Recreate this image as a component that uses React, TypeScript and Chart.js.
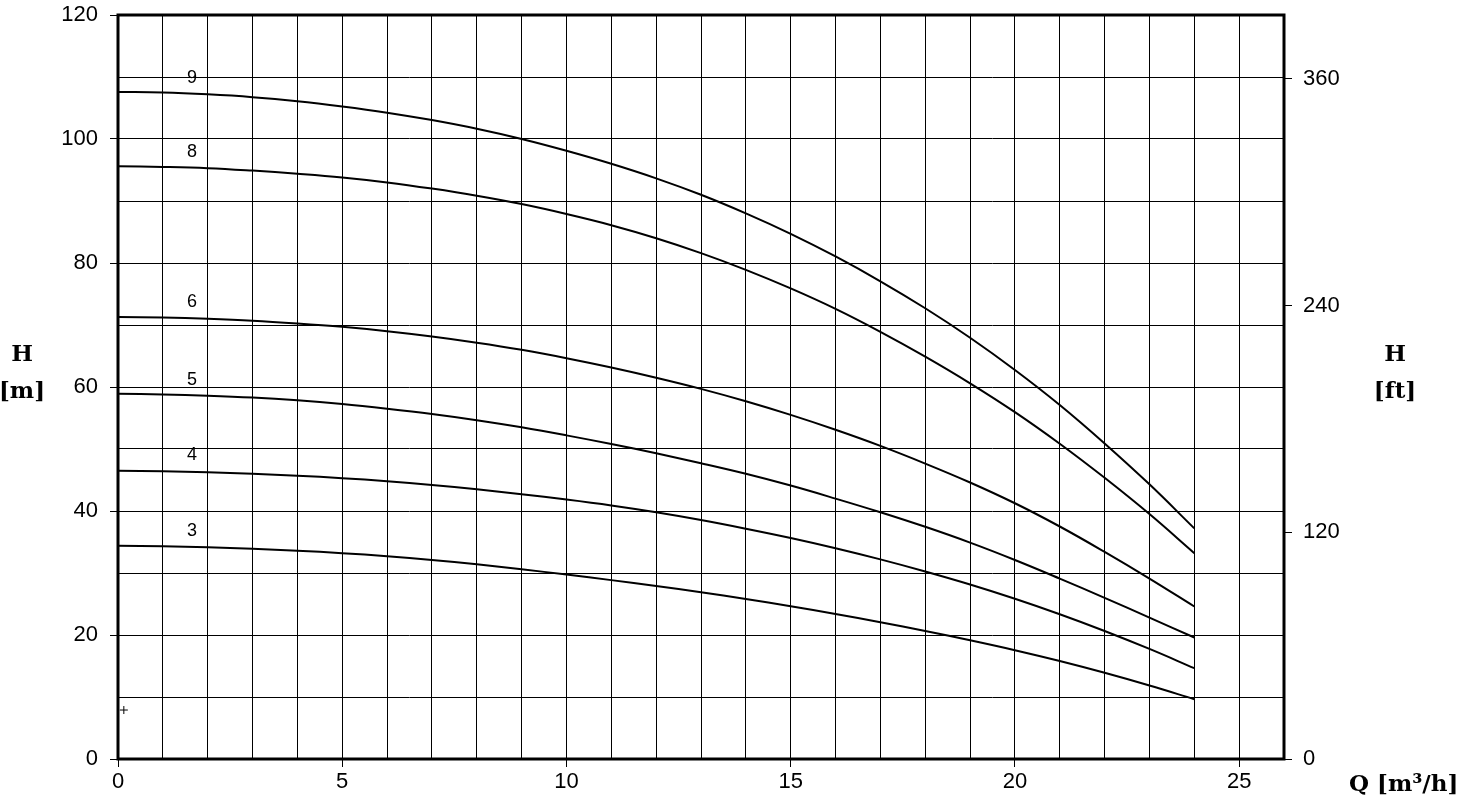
import React, { useEffect, useRef } from "react";
import { Chart, registerables } from "chart.js";

Chart.register(...registerables);

const Q = [0, 1, 2, 3, 4, 5, 6, 7, 8, 9, 10, 11, 12, 13, 14, 15, 16, 17, 18, 19, 20, 21, 22, 23, 24];
const H9 = [107.6, 107.5, 107.2, 106.75, 106.1, 105.25, 104.25, 103.05, 101.65, 100.0, 98.1, 96.0, 93.65, 91.0, 88.0, 84.7, 81.05, 77.05, 72.7, 67.95, 62.75, 57.1, 50.9, 44.3, 37.2];
const H8 = [95.6, 95.5, 95.3, 94.9, 94.4, 93.8, 93.0, 92.0, 90.85, 89.5, 87.9, 86.1, 84.0, 81.6, 78.9, 75.9, 72.6, 68.9, 64.9, 60.6, 55.95, 50.85, 45.35, 39.5, 33.2];
const H6 = [71.3, 71.2, 71.0, 70.7, 70.25, 69.7, 69.0, 68.15, 67.15, 66.0, 64.65, 63.15, 61.5, 59.7, 57.7, 55.5, 53.1, 50.5, 47.65, 44.6, 41.25, 37.5, 33.4, 29.1, 24.6];
const H5 = [58.9, 58.8, 58.6, 58.3, 57.85, 57.25, 56.5, 55.65, 54.65, 53.5, 52.2, 50.8, 49.3, 47.7, 46.0, 44.1, 42.0, 39.8, 37.45, 34.9, 32.1, 29.1, 26.0, 22.8, 19.6];
const H4 = [46.5, 46.4, 46.25, 46.0, 45.7, 45.3, 44.8, 44.2, 43.5, 42.7, 41.85, 40.9, 39.8, 38.55, 37.15, 35.65, 34.0, 32.2, 30.25, 28.15, 25.85, 23.35, 20.65, 17.75, 14.65];
const H3 = [34.4, 34.3, 34.15, 33.9, 33.6, 33.2, 32.7, 32.1, 31.4, 30.6, 29.75, 28.85, 27.9, 26.9, 25.8, 24.65, 23.4, 22.05, 20.65, 19.15, 17.55, 15.8, 13.9, 11.85, 9.65];

const curveNames = ["9", "8", "6", "5", "4", "3"];
const curveValues = [H9, H8, H6, H5, H4, H3];
const labelQ = 1.65;
const labelH = [109.8, 97.9, 73.7, 61.1, 49.0, 36.8];
const markerPoint = { x: 0.13, y: 7.9 };

const ftTicks = [0, 120, 240, 360];
const M_TO_FT = 3.28084;

export default function App() {
  const ref = useRef<HTMLCanvasElement | null>(null);
  useEffect(() => {
    document.body.style.margin = "0";
    const canvas = ref.current!;
    const datasets: any[] = curveValues.map((vals, i) => ({
      label: curveNames[i],
      data: Q.map((q, j) => ({ x: q, y: vals[j] })),
      borderColor: "#000",
      borderWidth: 2,
      pointRadius: 0,
      tension: 0.4,
      fill: false,
    }));
    datasets.push({
      label: "marker",
      data: [markerPoint],
      showLine: false,
      pointStyle: "cross",
      pointRadius: 4,
      borderColor: "#000",
      borderWidth: 1,
    });

    const framePlugin = {
      id: "frame",
      afterDraw(chart: any) {
        const { ctx, chartArea: a, scales } = chart;
        ctx.save();
        ctx.strokeStyle = "#000";
        ctx.lineWidth = 3;
        ctx.strokeRect(a.left, a.top, a.right - a.left, a.bottom - a.top);
        ctx.fillStyle = "#000";
        ctx.font = "18px 'Liberation Sans', Arial, sans-serif";
        ctx.textAlign = "center";
        ctx.textBaseline = "middle";
        curveNames.forEach((n, i) => {
          ctx.fillText(n, scales.x.getPixelForValue(labelQ), scales.y.getPixelForValue(labelH[i]));
        });
        ctx.font = "bold 23px 'DejaVu Serif', serif";
        ctx.fillText("H", 22, 355);
        ctx.fillText("[m]", 22, 392);
        ctx.fillText("H", 1395, 355);
        ctx.fillText("[ft]", 1395, 392);
        ctx.textAlign = "left";
        ctx.fillText("Q [m³/h]", 1349, 785);
        ctx.restore();
      },
    };

    const tickFont = { family: "'Liberation Sans', Arial, sans-serif", size: 22 };
    const noVPad = (s: any) => { s.paddingTop = 0; s.paddingBottom = 0; };
    const chart = new Chart(canvas, {
      type: "line",
      data: { datasets },
      plugins: [framePlugin],
      options: {
        animation: false,
        responsive: false,
        layout: { padding: { top: 15, left: 0, right: 0, bottom: 0 } },
        plugins: { legend: { display: false }, tooltip: { enabled: false } },
        scales: {
          x: {
            type: "linear",
            min: 0,
            max: 26,
            afterFit: (s: any) => { s.height = 43; s.paddingLeft = 0; s.paddingRight = 0; },
            border: { display: false },
            grid: {
              color: "#000",
              lineWidth: 1,
              tickLength: 8,
              tickColor: (c: any) => (c.tick && c.tick.value % 5 === 0 ? "#000" : "rgba(0,0,0,0)"),
            },
            ticks: {
              stepSize: 1,
              autoSkip: false,
              maxRotation: 0,
              padding: 2,
              color: "#000",
              font: tickFont,
              callback: (v: any) => (v % 5 === 0 && v <= 25 ? String(v) : ""),
            },
          },
          y: {
            type: "linear",
            position: "left",
            min: 0,
            max: 120,
            afterFit: (s: any) => { s.width = 118; noVPad(s); },
            border: { display: false },
            grid: {
              color: "#000",
              lineWidth: 1,
              tickLength: 8,
              tickColor: (c: any) => (c.tick && c.tick.value % 20 === 0 ? "#000" : "rgba(0,0,0,0)"),
            },
            ticks: {
              stepSize: 10,
              autoSkip: false,
              padding: 12,
              color: "#000",
              font: tickFont,
              callback: (v: any) => (v % 20 === 0 ? String(v) : ""),
            },
          },
          y1: {
            type: "linear",
            position: "right",
            min: 0,
            max: 120 * M_TO_FT,
            afterFit: (s: any) => { s.width = 184; noVPad(s); },
            afterBuildTicks: (s: any) => { s.ticks = ftTicks.map((v) => ({ value: v })); },
            border: { display: false },
            grid: { drawOnChartArea: false, color: "#000", tickLength: 8 },
            ticks: { padding: 11, color: "#000", font: tickFont, autoSkip: false },
          },
        },
      } as any,
    });
    return () => chart.destroy();
  }, []);
  return (
    <div style={{ width: 1468, height: 802, background: "#fff" }}>
      <canvas ref={ref} width={1468} height={802} style={{ display: "block" }} />
    </div>
  );
}
